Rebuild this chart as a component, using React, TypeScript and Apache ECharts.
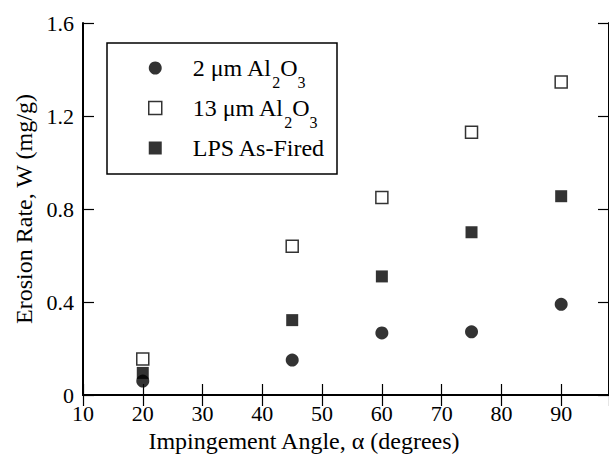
import React, { useEffect, useRef } from "react";
import * as echarts from "echarts";

const FONT = "Liberation Serif";

const impingementAngles = [20, 45, 60, 75, 90];
const rate2umAl2O3 = [0.06, 0.15, 0.267, 0.272, 0.39];
const rate13umAl2O3 = [0.155, 0.64, 0.85, 1.13, 1.346];
const rateLpsAsFired = [0.095, 0.322, 0.51, 0.7, 0.855];

const seriesNames = ["2 μm Al2O3", "13 μm Al2O3", "LPS As-Fired"];

const toPairs = (ys: number[]) => impingementAngles.map((x, i) => [x, ys[i]]);

const richName = (name: string) => {
  const m = name.match(/^(.*)Al2O3$/);
  if (m) return `{n|${m[1]}Al}{sub|2}{n|O}{sub|3}`;
  return `{n|${name}}`;
};

export default function App() {
  const ref = useRef<HTMLDivElement>(null);
  useEffect(() => {
    if (!ref.current) return;
    const chart = echarts.init(ref.current, null, { renderer: "svg" });
    const axisLine = { show: true, lineStyle: { color: "#000", width: 2 } };
    const axisTick = { show: true, inside: true, length: 11, lineStyle: { color: "#000", width: 1.2 } };
    const tickLabel = { fontFamily: FONT, fontSize: 22, color: "#000" };
    chart.setOption({
      animation: false,
      backgroundColor: "#fff",
      textStyle: { fontFamily: FONT },
      grid: { left: 83, top: 23, width: 528, height: 372, containLabel: false },
      xAxis: [
        {
          type: "value",
          min: 10,
          max: 98,
          interval: 10,
          position: "bottom",
          axisLine,
          axisTick,
          splitLine: { show: false },
          axisLabel: { ...tickLabel, margin: 7, showMaxLabel: false },
          name: "Impingement Angle, α (degrees)",
          nameLocation: "middle",
          nameGap: 28,
          nameTextStyle: { fontFamily: FONT, fontSize: 24, color: "#000", padding: [0, 84, 0, 0] },
        },
        {
          type: "value",
          min: 10,
          max: 98,
          interval: 10,
          position: "top",
          axisLine,
          axisTick,
          splitLine: { show: false },
          axisLabel: { show: false },
        },
      ],
      yAxis: [
        {
          type: "value",
          min: 0,
          max: 1.6,
          interval: 0.4,
          position: "left",
          axisLine,
          axisTick,
          splitLine: { show: false },
          axisLabel: {
            ...tickLabel,
            margin: 9,
            formatter: (v: number) => (v === 0 ? "0" : v.toFixed(1)),
          },
          name: "Erosion Rate, W (mg/g)",
          nameLocation: "middle",
          nameGap: 43,
          nameTextStyle: { fontFamily: FONT, fontSize: 24, color: "#000" },
        },
        {
          type: "value",
          min: 0,
          max: 1.6,
          interval: 0.4,
          position: "right",
          axisLine,
          axisTick,
          splitLine: { show: false },
          axisLabel: { show: false },
        },
      ],
      legend: {
        orient: "vertical",
        left: 107,
        top: 43,
        padding: [3, 0, 0, 41],
        itemGap: -4,
        itemWidth: 13,
        itemHeight: 13,
        borderWidth: 0,
        selectedMode: false,
        data: [
          { name: seriesNames[0], icon: "circle", itemStyle: { color: "#000", borderWidth: 0 } },
          { name: seriesNames[1], icon: "rect", itemStyle: { color: "#fff", borderColor: "#000", borderWidth: 1.5 } },
          { name: seriesNames[2], icon: "rect", itemStyle: { color: "#000", borderWidth: 0 } },
        ],
        formatter: richName,
        textStyle: {
          fontFamily: FONT,
          fontSize: 24,
          color: "#000",
          lineHeight: 44,
          padding: [0, 0, 0, 26],
          rich: {
            n: { fontFamily: FONT, fontSize: 24, lineHeight: 44, color: "#000" },
            sub: { fontFamily: FONT, fontSize: 16, lineHeight: 16, color: "#000", verticalAlign: "bottom" },
          },
        },
      },
      graphic: [
        {
          type: "rect",
          shape: { x: 107, y: 43, width: 230, height: 131 },
          style: { fill: "none", stroke: "#000", lineWidth: 1.5 },
          z: 100,
        },
      ],
      series: [
        {
          name: seriesNames[0],
          type: "scatter",
          symbol: "circle",
          symbolSize: 13,
          itemStyle: { color: "#000" },
          data: toPairs(rate2umAl2O3),
          z: 2,
        },
        {
          name: seriesNames[1],
          type: "scatter",
          symbol: "rect",
          symbolSize: 12,
          itemStyle: { color: "#fff", borderColor: "#000", borderWidth: 1.5 },
          data: toPairs(rate13umAl2O3),
          z: 3,
        },
        {
          name: seriesNames[2],
          type: "scatter",
          symbol: "rect",
          symbolSize: 12,
          itemStyle: { color: "#000" },
          data: toPairs(rateLpsAsFired),
          z: 4,
        },
      ],
    });
    return () => chart.dispose();
  }, []);
  return (
    <div
      ref={ref}
      style={{ position: "fixed", left: 0, top: 0, width: 609, height: 458, background: "#fff" }}
    />
  );
}
